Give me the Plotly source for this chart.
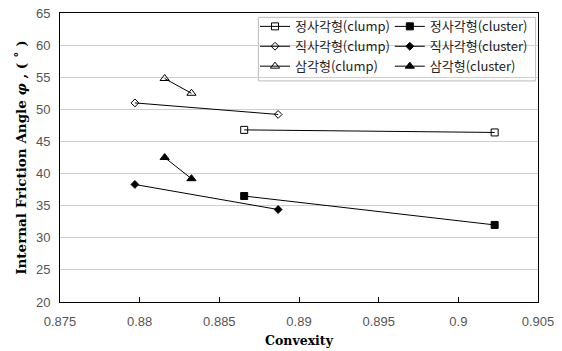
import plotly.graph_objects as go

# Convexity vs. internal friction angle for three particle shapes
sq_x = [0.88656, 0.90228]
sq_clump = [46.8, 46.4]
sq_cluster = [36.5, 32.0]

rect_x = [0.8797, 0.88869]
rect_clump = [51.0, 49.2]
rect_cluster = [38.3, 34.4]

tri_x = [0.88157, 0.88325]
tri_clump = [54.8, 52.5]
tri_cluster = [42.5, 39.2]

x_ticks = [0.875, 0.88, 0.885, 0.89, 0.895, 0.9, 0.905]
x_tick_text = ["0.875", "0.88", "0.885", "0.89", "0.895", "0.9", "0.905"]
y_ticks = [20, 25, 30, 35, 40, 45, 50, 55, 60, 65]

series = [
    ("정사각형(clump)", sq_x, sq_clump, "square-open", 7, "legend"),
    ("직사각형(clump)", rect_x, rect_clump, "diamond-open", 6, "legend"),
    ("삼각형(clump)", tri_x, tri_clump, "triangle-up-open", 8, "legend"),
    ("정사각형(cluster)", sq_x, sq_cluster, "square", 7, "legend2"),
    ("직사각형(cluster)", rect_x, rect_cluster, "diamond", 6, "legend2"),
    ("삼각형(cluster)", tri_x, tri_cluster, "triangle-up", 8, "legend2"),
]

fig = go.Figure()
for name, xs, ys, sym, size, leg in series:
    fig.add_trace(go.Scatter(
        x=xs, y=ys, name=name, mode="lines+markers",
        line=dict(color="black", width=1),
        marker=dict(symbol=sym, size=size, color="black",
                    line=dict(color="black", width=1)),
        legend=leg,
    ))

leg_font = dict(family="Noto Sans CJK KR", size=13, color="#222")
fig.update_layout(
    width=562, height=351,
    margin=dict(l=60, r=24, t=12, b=49),
    paper_bgcolor="white", plot_bgcolor="white",
    showlegend=True,
    legend=dict(x=0.408, y=1.002, xanchor="left", yanchor="top",
                font=leg_font, bgcolor="rgba(0,0,0,0)", tracegroupgap=0,
                itemwidth=30, traceorder="normal"),
    legend2=dict(x=0.69, y=1.002, xanchor="left", yanchor="top",
                 font=leg_font, bgcolor="rgba(0,0,0,0)", tracegroupgap=0,
                 itemwidth=30, traceorder="normal"),
    xaxis=dict(
        range=[0.875, 0.905], tickvals=x_ticks, ticktext=x_tick_text,
        showgrid=False, zeroline=False, automargin=False,
        showline=True, linecolor="black", linewidth=1, mirror=True,
        ticks="inside", ticklen=5, tickcolor="black", ticklabelstandoff=7,
        tickfont=dict(family="Liberation Sans", size=13, color="#555"),
        title=dict(text="Convexity", standoff=8,
                   font=dict(family="DejaVu Serif", size=12.5, color="black", weight="bold")),
    ),
    yaxis=dict(
        range=[20, 65], tickvals=y_ticks,
        showgrid=True, gridcolor="#cfcfcf", gridwidth=1, zeroline=False, automargin=False,
        showline=True, linecolor="black", linewidth=1, mirror=True,
        ticks="", ticklabelstandoff=6,
        tickfont=dict(family="Liberation Sans", size=13, color="#555"),
        title=dict(text="Internal Friction Angle <i>φ</i> , ( ˚ )", standoff=6,
                   font=dict(family="DejaVu Serif", size=13.5, color="black", weight="bold")),
    ),
    shapes=[dict(type="rect", xref="paper", yref="paper",
                 x0=0.415, x1=0.995, y0=0.765, y1=0.985,
                 line=dict(color="#bbbbbb", width=1), fillcolor="white", layer="below")],
)

fig.write_html("out.html")
